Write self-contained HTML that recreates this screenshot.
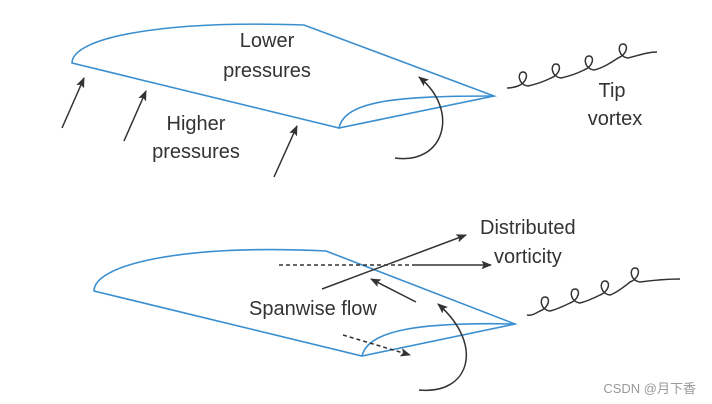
<!DOCTYPE html>
<html><head><meta charset="utf-8"><style>
html,body{margin:0;padding:0;background:#fff;}
svg{display:block}
text{font-family:"Liberation Sans",sans-serif;fill:#333;font-size:20px}
</style></head><body>
<svg width="712" height="404" viewBox="0 0 712 404" xmlns="http://www.w3.org/2000/svg">
<defs>
<marker id="a" viewBox="0 0 10 10" refX="9" refY="5" markerWidth="7" markerHeight="7" orient="auto-start-reverse"><path d="M0,1 L10,5 L0,9 L2,5 z" fill="#333"/></marker>
</defs>
<g fill="none" stroke="#3a8fd0" stroke-width="1.6">
<path d="M72,63 C72,38 160,20 304,25 L494,96 L339,128 Z"/>
<path d="M339,128 C345,100 400,96 494,96"/>
<path d="M94,291 C94,265 180,244 326,251 L515,324 L362,356 Z"/>
<path d="M362,356 C368,330 420,322 515,324"/>
</g>
<g fill="none" stroke="#333" stroke-width="1.5">
<line x1="62" y1="128" x2="84" y2="78" marker-end="url(#a)"/>
<line x1="124" y1="141" x2="146" y2="91" marker-end="url(#a)"/>
<line x1="274" y1="177" x2="297" y2="126" marker-end="url(#a)"/>
<path d="M395,158 C445,165 460,110 419,77" marker-end="url(#a)"/>
<path d="M507,88 C512,88 515,87 518,86
C527,83 529,72 523,72 C517,72 518,85 528,86
C537,84 545,81 551,78
C560,75 562,64 556,64 C550,64 551,77 561,78
C570,76 578,73 584,70
C593,67 595,56 589,56 C583,56 584,69 594,70
C603,68 612,62 618,58
C627,55 629,44 623,44 C617,44 618,57 628,58
C640,55 648,52 657,52"/>
<line x1="279" y1="265" x2="415" y2="265" stroke-dasharray="4,3"/>
<line x1="415" y1="265" x2="491" y2="265" marker-end="url(#a)"/>
<line x1="322" y1="289" x2="466" y2="235" marker-end="url(#a)"/>
<line x1="416" y1="302" x2="371" y2="279" marker-end="url(#a)"/>
<line x1="343" y1="335" x2="410" y2="355" stroke-dasharray="4,3" marker-end="url(#a)"/>
<path d="M419,390 C470,395 485,345 438,304" marker-end="url(#a)"/>
<path d="M527,315 C532,316 536,313 540,311
C549,308 551,297 545,297 C539,297 540,310 550,311
C558,309 564,306 570,303
C579,300 581,289 575,289 C569,289 570,302 580,303
C588,301 594,298 600,295
C609,292 611,281 605,281 C599,281 600,294 610,295
C618,292 625,286 630,282
C639,279 641,268 635,268 C629,268 630,281 640,282
C655,280 668,279 680,279"/>
</g>
<text x="267" y="47" text-anchor="middle">Lower</text>
<text x="267" y="77" text-anchor="middle">pressures</text>
<text x="196" y="130" text-anchor="middle">Higher</text>
<text x="196" y="158" text-anchor="middle">pressures</text>
<text x="612" y="97" text-anchor="middle">Tip</text>
<text x="615" y="125" text-anchor="middle">vortex</text>
<text x="480" y="234">Distributed</text>
<text x="494" y="263">vorticity</text>
<text x="249" y="315">Spanwise flow</text>
<text x="696" y="393" text-anchor="end" style="font-family:'Liberation Sans','Noto Sans CJK SC',sans-serif;font-size:13px;fill:#999">CSDN @月下香</text>
</svg>
</body></html>
